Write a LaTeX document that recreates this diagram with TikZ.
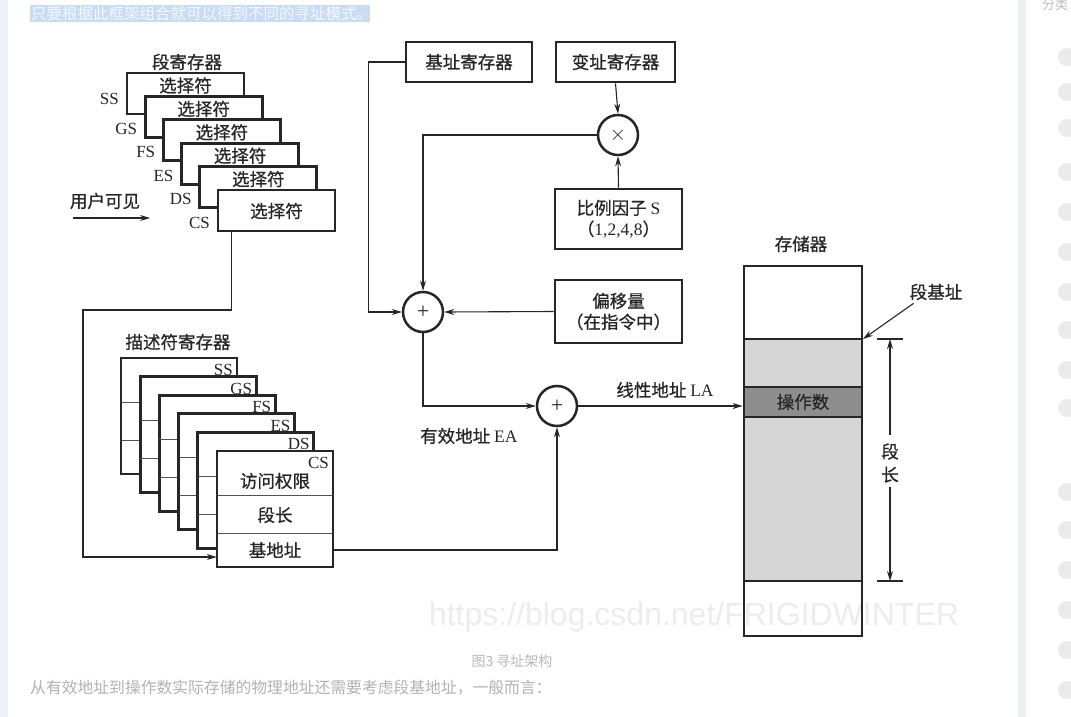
\documentclass[tikz,border=0pt]{standalone}
\usepackage{fontspec}
\setmainfont{Liberation Serif}
\newfontfamily\cjk{Noto Sans CJK SC}
\newfontfamily\cjkb{Noto Sans CJK SC}[FakeBold=0.7]
\newfontfamily\lat{Liberation Serif}
\newfontfamily\wsans{Liberation Sans}
\usetikzlibrary{arrows.meta}
\definecolor{ink}{HTML}{262626}
\definecolor{hl}{HTML}{C9DCF4}
\definecolor{hltext}{HTML}{F4F8FD}
\definecolor{strip}{HTML}{EDF0F4}
\definecolor{memlight}{HTML}{D6D6D6}
\definecolor{memdark}{HTML}{8E8E8E}
\begin{document}
\begin{tikzpicture}[x=1pt,y=-1pt,
 box/.style={draw=ink,line width=2.7pt,fill=white,inner sep=0pt},
 fine/.style={draw=ink!80,line width=0.9pt},
 conn/.style={draw=ink,line width=1.1pt},
 arr/.style={conn,-{Stealth[length=10pt,width=6pt]}},
 cj/.style={font=\cjkb\fontsize{17.5}{21}\selectfont,text=ink,inner sep=0pt},
 lt/.style={font=\lat\fontsize{17}{20}\selectfont,text=ink,inner sep=0pt},
 op/.style={circle,draw=ink,line width=2.5pt,minimum size=40pt,inner sep=0pt,fill=white,font=\lat\fontsize{22}{22}\selectfont,text=ink}]

\path[fill=white] (0,0) rectangle (1071,717);
\useasboundingbox (0,0) rectangle (1071,717);

% page decorations
\fill[strip] (0,0) rectangle (8,717);
\fill[strip] (1018,0) rectangle (1026,717);
\fill[hl] (30,5) rectangle (370,22);
\node[font=\cjk\fontsize{15.5}{17}\selectfont,text=hltext,anchor=west,inner sep=0pt] (toptext) at (31,13.5) {只要根据此框架组合就可以得到不同的寻址模式。};
\node[font=\cjk\fontsize{13}{13}\selectfont,text=black!25,anchor=west,inner sep=0pt] (cat) at (1042,5) {分类};
\foreach \y in {57,92,128,172,212,252,292,330,370,408,492,530,570,610,650,690}
  \fill[black!8] (1067,\y) circle (9);
\node[font=\wsans\fontsize{32}{32}\selectfont,text=black!7,inner sep=0pt] (wm) at (694,617) {https://blog.csdn.net/FRIGIDWINTER};
\node[font=\cjk\fontsize{14}{14}\selectfont,text=black!28,inner sep=0pt] (cap) at (512,661) {图3 寻址架构};
\node[font=\cjk\fontsize{15.8}{16}\selectfont,text=black!30,anchor=west,inner sep=0pt] (foot) at (30,688) {从有效地址到操作数实际存储的物理地址还需要考虑段基地址，一般而言：};

% segment registers
\node[cj] (segtitle) at (187,62) {段寄存器};
\foreach \i/\lab/\ly in {0/SS/26,1/GS/33,2/FS/32,3/ES/33,4/DS/32,5/CS/33}{
  \pgfmathsetmacro\xo{127+18.2*\i}
  \pgfmathsetmacro\yo{73+23.4*\i}
  \pgfmathsetmacro\ty{\i<5 ? \yo+12.5 : \yo+21}
  \node[box,minimum width=117pt,minimum height=41pt] (seg\i) at (\xo+58.5,\yo+20.5) {};
  \node[cj] (segsel\i) at (\xo+58.5,\ty) {选择符};
  \node[lt,anchor=east] (seglab\i) at (\xo-8,\yo+\ly) {\lab};
}
\node[cj] (uv) at (105,201) {用户可见};
\coordinate (uva) at (73,218);
\coordinate (uvb) at (150,218);
\draw[arr] (uva) -- (uvb);

% descriptor registers
\node[cj] (desctitle) at (178,342) {描述符寄存器};
\foreach \j/\lab in {0/SS,1/GS,2/FS,3/ES,4/DS,5/CS}{
  \pgfmathsetmacro\xo{121+19.2*\j}
  \pgfmathsetmacro\yo{358+18.6*\j}
  \node[box,minimum width=116pt,minimum height=116pt] (desc\j) at (\xo+58,\yo+58) {};
  \draw[fine] (\xo,\yo+44) -- (\xo+116,\yo+44);
  \draw[fine] (\xo,\yo+82) -- (\xo+116,\yo+82);
  \node[lt,anchor=east] (desclab\j) at (\xo+112,\yo+12) {\lab};
}
\node[cj,minimum width=116pt,minimum height=38pt] (acc) at (275,481) {访问权限};
\node[cj,minimum width=116pt,minimum height=38pt] (len) at (275,515) {段长};
\node[cj,minimum width=116pt,minimum height=34pt] (baserow) at (275,550) {基地址};

\coordinate (k1) at (83,310);
\draw[arr] ([xshift=15pt]seg5.south west) |- (k1) |- ([yshift=-7pt]baserow.west);

% address computation
\node[box,cj,minimum width=126pt,minimum height=40pt] (basereg) at (469,62) {基址寄存器};
\node[box,cj,minimum width=119pt,minimum height=40pt] (idxreg) at (615.5,62) {变址寄存器};
\node[op] (mul) at (618,135) {$\times$};
\node[box,cj,minimum width=127pt,minimum height=60pt,align=center] (scale) at (618.5,219) {比例因子 {\lat S}\\（{\lat 1,2,4,8}）};
\node[op] (add1) at (423,312) {+};
\node[box,cj,minimum width=127pt,minimum height=63pt,align=center] (disp) at (618.5,311.5) {偏移量\\（在指令中）};
\node[op] (add2) at (557,406) {+};

\draw[arr] (basereg.west) -- ++(-36,0) |- (add1.west);
\draw[arr] (idxreg.south) -- (mul.north);
\draw[arr] (scale.north) -- (mul.south);
\draw[arr] (mul.west) -| (add1.north);
\draw[arr] (disp.west) -- (add1.east);
\draw[arr] (add1.south) |- (add2.west);
\draw[arr] (baserow.east) -| (add2.south);

\node[cj,anchor=west] (ea) at (420,436) {有效地址 {\lat EA}};
\node[cj] (la) at (665,390) {线性地址 {\lat LA}};

% memory
\fill[memlight] (744,339) rectangle (862,581);
\fill[memdark] (744,387) rectangle (862,417);
\draw[ink,line width=1.3pt] (744,339) -- (862,339);
\draw[ink,line width=1.3pt] (744,387) -- (862,387);
\draw[ink,line width=1.3pt] (744,417) -- (862,417);
\draw[ink,line width=1.3pt] (744,581) -- (862,581);
\node[cj] (operand) at (803,402) {操作数};
\node[draw=ink,line width=2.8pt,minimum width=118pt,minimum height=370pt,inner sep=0pt] (mem) at (803,451) {};
\node[cj] (memtitle) at (801,244) {存储器};
\draw[arr] (add2.east) -- (add2.east -| mem.west);

\node[cj] (segbase) at (936,292) {段基址};
\coordinate (gb) at (863,339);
\draw[arr] ([shift={(4,3)}]segbase.south west) -- (gb);

\coordinate (dt) at (890,339);
\coordinate (db) at (890,581);
\draw[conn] (877,339) -- (903,339);
\draw[conn] (877,581) -- (903,581);
\node[cj,align=center,font=\cjkb\fontsize{17.5}{23}\selectfont] (seglen) at (890,463) {段\\长};
\draw[arr] ([yshift=8pt]seglen.north) -- (dt);
\draw[arr] ([yshift=-4pt]seglen.south) -- (db);
\end{tikzpicture}
\end{document}
